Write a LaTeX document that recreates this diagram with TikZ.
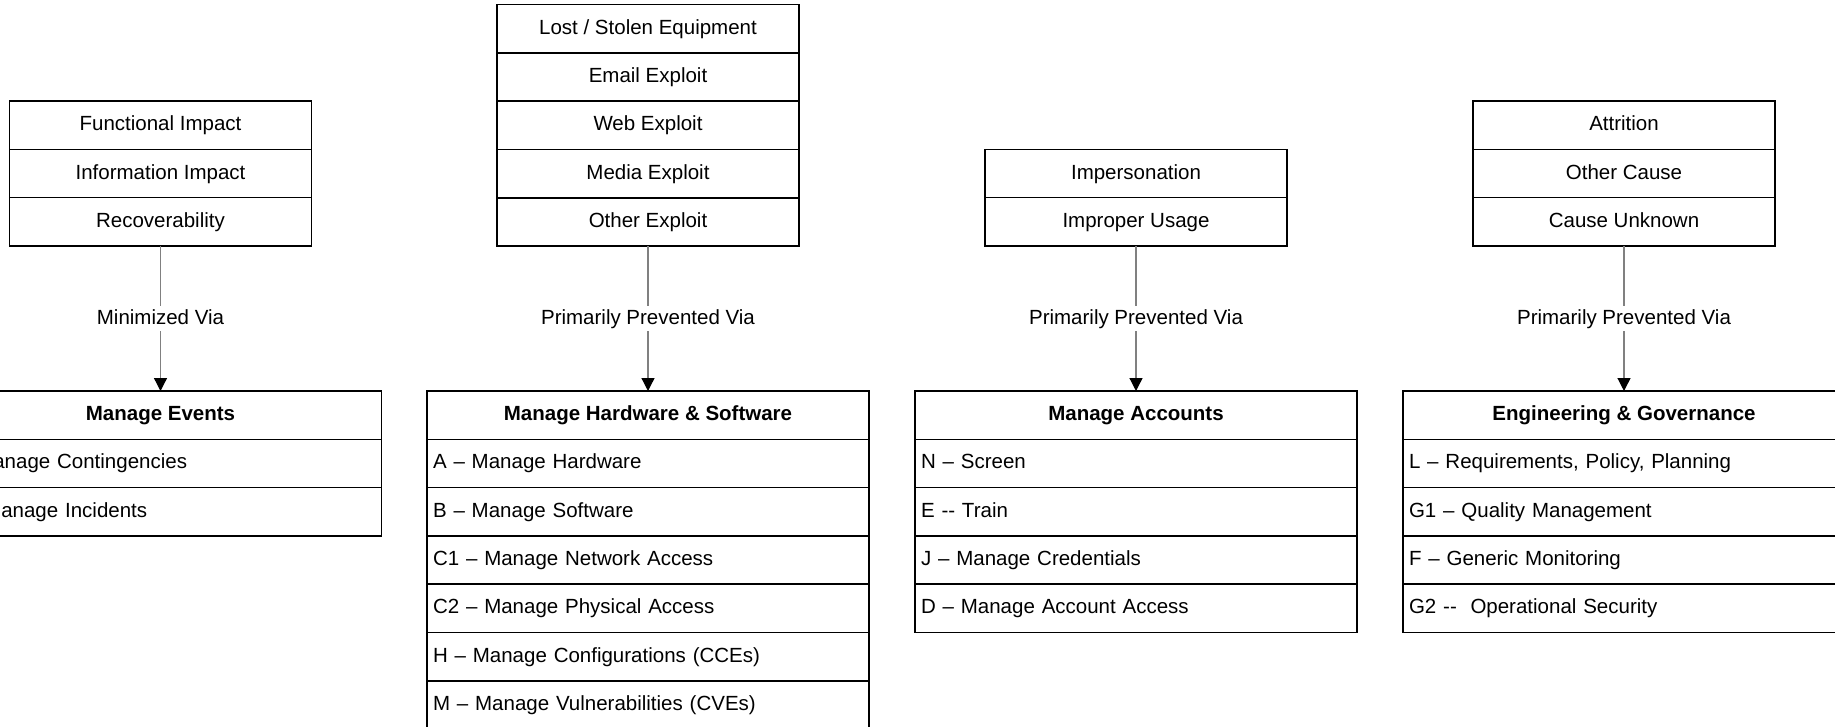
\documentclass[tikz,border=0pt]{standalone}
\usepackage{fontspec}
\setmainfont{Liberation Sans}
\usetikzlibrary{arrows.meta}
\tikzset{
  x=1pt, y=-1pt,
  cell/.style={draw, line width=1.6pt, minimum width=302pt, minimum height=48.3pt,
    inner sep=0pt, outer sep=0pt, text height=15pt, text depth=4pt, anchor=north,
    font=\fontsize{20.5pt}{24pt}\selectfont},
  headcell/.style={cell, minimum width=442pt, font=\fontsize{20.5pt}{24pt}\selectfont\bfseries},
  itemcell/.style={cell, minimum width=442pt, text width=430pt, inner xsep=6pt, align=left},
  conn/.style={draw=black!50, line width=1.3pt,
    -{Triangle[length=13pt,width=13pt,color=black,fill=black]}},
  lbl/.style={fill=white, inner xsep=1pt, inner ysep=3pt, text height=15pt, text depth=4pt,
    font=\fontsize{20.5pt}{24pt}\selectfont},
}
\begin{document}
\begin{tikzpicture}
\useasboundingbox (0,0) rectangle (1835,727);
\clip (0,0) rectangle (1835,727);

% ---- Column 1
\node[cell] (a1) at (160.5,101.1) {Functional Impact};
\node[cell] (a2) at (a1.south) {Information Impact};
\node[cell] (a3) at (a2.south) {Recoverability};
\node[headcell] (ah) at (160.5,391) {Manage Events};
\node[itemcell] (ai1) at (ah.south) {I – Manage Contingencies};
\node[itemcell] (ai2) at (ai1.south) {K – Manage Incidents};
\draw[conn] (a3.south) -- node[lbl] {Minimized Via} (ah.north);

% ---- Column 2
\node[cell] (b1) at (648,4.6) {Lost / Stolen Equipment};
\node[cell] (b2) at (b1.south) {Email Exploit};
\node[cell] (b3) at (b2.south) {Web Exploit};
\node[cell] (b4) at (b3.south) {Media Exploit};
\node[cell] (b5) at (b4.south) {Other Exploit};
\node[headcell] (bh) at (648,391) {Manage Hardware \& Software};
\node[itemcell] (bi1) at (bh.south) {A – Manage Hardware};
\node[itemcell] (bi2) at (bi1.south) {B – Manage Software};
\node[itemcell] (bi3) at (bi2.south) {C1 – Manage Network Access};
\node[itemcell] (bi4) at (bi3.south) {C2 – Manage Physical Access};
\node[itemcell] (bi5) at (bi4.south) {H – Manage Configurations (CCEs)};
\node[itemcell] (bi6) at (bi5.south) {M – Manage Vulnerabilities (CVEs)};
\draw[conn] (b5.south) -- node[lbl] {Primarily Prevented Via} (bh.north);

% ---- Column 3
\node[cell] (c1) at (1136,149.4) {Impersonation};
\node[cell] (c2) at (c1.south) {Improper Usage};
\node[headcell] (ch) at (1136,391) {Manage Accounts};
\node[itemcell] (ci1) at (ch.south) {N – Screen};
\node[itemcell] (ci2) at (ci1.south) {E -{}- Train};
\node[itemcell] (ci3) at (ci2.south) {J – Manage Credentials};
\node[itemcell] (ci4) at (ci3.south) {D – Manage Account Access};
\draw[conn] (c2.south) -- node[lbl] {Primarily Prevented Via} (ch.north);

% ---- Column 4
\node[cell] (d1) at (1624,101.1) {Attrition};
\node[cell] (d2) at (d1.south) {Other Cause};
\node[cell] (d3) at (d2.south) {Cause Unknown};
\node[headcell] (dh) at (1624,391) {Engineering \& Governance};
\node[itemcell] (di1) at (dh.south) {L – Requirements, Policy, Planning};
\node[itemcell] (di2) at (di1.south) {G1 – Quality Management};
\node[itemcell] (di3) at (di2.south) {F – Generic Monitoring};
\node[itemcell] (di4) at (di3.south) {G2 -{}-\ \ Operational Security};
\draw[conn] (d3.south) -- node[lbl] {Primarily Prevented Via} (dh.north);
\end{tikzpicture}
\end{document}
